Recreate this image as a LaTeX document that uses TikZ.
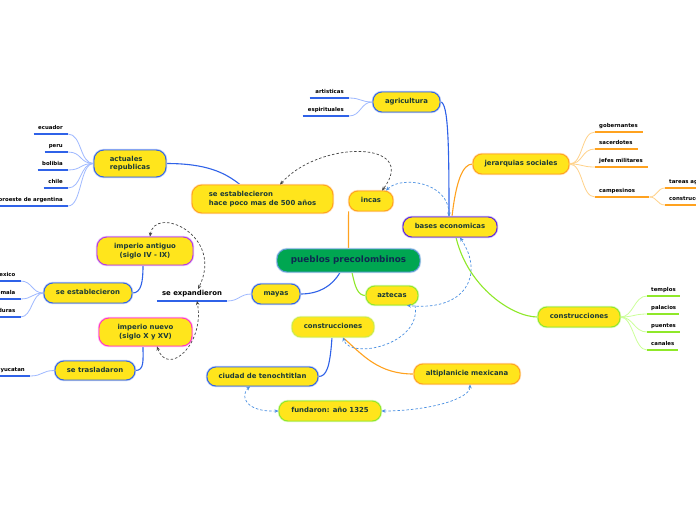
\documentclass[tikz,border=0pt]{standalone}
\usepackage{fontspec}
\setmainfont{DejaVu Sans}
\usetikzlibrary{arrows.meta}
\definecolor{ylw}{HTML}{FFE51C}
\definecolor{txt}{HTML}{1C3A36}
\definecolor{navy}{HTML}{0E2A50}
\definecolor{cgr}{HTML}{00A651}
\definecolor{cenb}{HTML}{5B9BD5}
\definecolor{cblue}{HTML}{2F62E8}
\definecolor{corg}{HTML}{FFA21F}
\definecolor{cgrn}{HTML}{8FE829}
\definecolor{cpur}{HTML}{5A24DE}
\definecolor{cvio}{HTML}{B238E6}
\definecolor{cmag}{HTML}{FF35C8}
\definecolor{clim}{HTML}{CCEB45}
\definecolor{lblue}{HTML}{9FB9FF}
\definecolor{lorg}{HTML}{FFD28A}
\definecolor{lgrn}{HTML}{CCFF99}
\definecolor{dgray}{HTML}{444444}
\definecolor{dblue}{HTML}{4A90E2}
\newcommand\leafl[2]{\makebox[#1pt][r]{#2\hspace{5pt}}}
\newcommand\leafr[2]{\makebox[#1pt][l]{\hspace{4pt}#2}}
\pgfdeclarelayer{bg}
\pgfdeclarelayer{paper}
\pgfsetlayers{paper,bg,main}
\begin{document}
\begin{tikzpicture}[x=1pt,y=-1pt,
  >={Stealth[length=4pt,width=3.5pt]},
  box/.style={draw=#1, preaction={draw=#1!35, line width=2.4pt}, fill=ylw, line width=0.9pt,
    rounded corners=9pt, inner sep=0pt, minimum height=20pt,
    font=\bfseries\fontsize{6.9}{8.8}\selectfont, text=txt, align=center},
  one/.style={text height=5.3pt, text depth=1.7pt},
  leaf/.style={inner sep=0pt, text height=4pt, text depth=4pt,
    font=\bfseries\fontsize{5.4}{6}\selectfont, text=black},
  mb/.style={draw=cblue, line width=1.1pt},
  mo/.style={draw=corg, line width=1.1pt},
  mg/.style={draw=cgrn, line width=1.1pt},
  lb/.style={draw=lblue, line width=0.8pt},
  lo/.style={draw=lorg, line width=0.8pt},
  lg/.style={draw=lgrn, line width=0.8pt},
  ub/.style={draw=cblue, line width=1.4pt},
  uo/.style={draw=corg, line width=1.4pt},
  ug/.style={draw=cgrn, line width=1.4pt},
  gd/.style={draw=dgray, dash pattern=on 2.5pt off 2pt, line width=0.7pt},
  bd/.style={draw=dblue, dash pattern=on 2.5pt off 2pt, line width=0.7pt}
]
\useasboundingbox (0,0) rectangle (696,520);
\begin{pgfonlayer}{paper}
\fill[white] (0,0) rectangle (696,520);
\end{pgfonlayer}

% boxed nodes
\node[box=cenb, fill=cgr, minimum width=143pt, minimum height=23pt, rounded corners=10pt,
  font=\bfseries\fontsize{8.8}{10}\selectfont, text=navy, one] (pp) at (348.5,260.5) {pueblos precolombinos};
\node[box=corg, one, minimum width=44pt] (incas) at (371,201) {incas};
\node[box=cblue, one, minimum width=48pt] (mayas) at (276,294) {mayas};
\node[box=cgrn, one, minimum width=52pt, minimum height=19pt] (aztecas) at (392,295.5) {aztecas};
\node[box=corg, minimum width=141pt, minimum height=28pt, rounded corners=10pt, align=left] (sehp) at (262.5,199) {se establecieron\\hace poco mas de 500 años};
\node[box=cblue, minimum width=72pt, minimum height=27pt, rounded corners=10pt, align=left] (act) at (130,163.5) {actuales\\republicas};
\node[box=cblue, one, minimum width=67pt] (agr) at (406.5,102) {agricultura};
\node[box=cpur, one, minimum width=94pt] (bases) at (450,227) {bases economicas};
\node[box=corg, one, minimum width=96pt] (jer) at (521,164) {jerarquias sociales};
\node[box=cgrn, one, minimum width=82pt] (consR) at (579,317) {construcciones};
\node[box=cvio, minimum width=96pt, minimum height=28pt, rounded corners=10pt] (impA) at (145,251) {imperio antiguo\\(siglo IV - IX)};
\node[box=cblue, one, minimum width=88pt] (seest) at (88,293) {se establecieron};
\node[box=cmag, minimum width=93pt, minimum height=28pt, rounded corners=10pt] (impN) at (145.5,332) {imperio nuevo\\(siglo X y XV)};
\node[box=cblue, one, minimum width=80pt, minimum height=19pt] (setr) at (95,370.5) {se trasladaron};
\node[box=clim, one, minimum width=82pt] (consC) at (333,327) {construcciones};
\node[box=cblue, one, minimum width=111pt, minimum height=19pt] (ciudad) at (262.5,376.5) {ciudad de tenochtitlan};
\node[box=corg, one, minimum width=106pt] (alti) at (467,374) {altiplanicie mexicana};
\node[box=cgrn, one, minimum width=102pt] (fund) at (330,411) {fundaron: año 1325};

% se expandieron (underlined)
\node[leaf, font=\bfseries\fontsize{6.9}{8}\selectfont, text height=6pt, text depth=5.5pt,
  minimum width=70pt, anchor=south] (sexp) at (192,301) {se expandieron};

% leaves, left side
\node[leaf, anchor=south east] (ec) at (68,134) {\leafl{34}{ecuador}};
\node[leaf, anchor=south east] (pe) at (68,152) {\leafl{23}{peru}};
\node[leaf, anchor=south east] (bo) at (68,170) {\leafl{30}{bolibia}};
\node[leaf, anchor=south east] (ch) at (68,188) {\leafl{24}{chile}};
\node[leaf, anchor=south east] (no) at (68,206) {\leafl{68}{noroeste de argentina}};
\node[leaf, anchor=south east] (ar) at (349,98) {\leafl{39}{artisticas}};
\node[leaf, anchor=south east] (es) at (349,116) {\leafl{46}{espirituales}};
\node[leaf, anchor=south east] (mx) at (20.5,281) {\leafl{21}{mexico}};
\node[leaf, anchor=south east] (gu) at (20.5,299) {\leafl{21}{guatemala}};
\node[leaf, anchor=south east] (ho) at (20.5,317) {\leafl{21}{honduras}};
\node[leaf, anchor=south east] (yu) at (30,376) {\leafl{30}{yucatan}};
% leaves, right side
\node[leaf, anchor=south west] (go) at (595,132) {\leafr{48}{gobernantes}};
\node[leaf, anchor=south west] (sa) at (595,149) {\leafr{43}{sacerdotes}};
\node[leaf, anchor=south west] (je) at (595,167) {\leafr{53}{jefes militares}};
\node[leaf, anchor=south west] (ca) at (595,197) {\leafr{54}{campesinos}};
\node[leaf, anchor=south west] (ta) at (665,188) {\leafr{40}{tareas agricolas}};
\node[leaf, anchor=south west] (co) at (665,205) {\leafr{40}{construcciones}};
\node[leaf, anchor=south west] (te) at (647,296) {\leafr{33}{templos}};
\node[leaf, anchor=south west] (pa) at (647,314) {\leafr{32}{palacios}};
\node[leaf, anchor=south west] (pu) at (647,332) {\leafr{33}{puentes}};
\node[leaf, anchor=south west] (cn) at (647,350) {\leafr{31}{canales}};

\begin{pgfonlayer}{bg}
% main connectors
\draw[mo] (pp.north) -- (incas.south west);
\draw[mb] ([xshift=-8.5pt]pp.south) .. controls +(-8,14) and +(18,0) .. (mayas.east);
\draw[mg] ([xshift=3.5pt]pp.south) .. controls +(3,14) and +(-8,0) .. (aztecas.west);
\draw[mb] (act.east) .. controls +(40,0) and +(-15,-12) .. ([xshift=-22.5pt]sehp.north);
\draw[mb] (agr.east) .. controls +(8,0) and +(0,-70) .. ([xshift=-1pt]bases.north);
\draw[mo] ([xshift=2pt]bases.north) .. controls +(4,-35) and +(-10,0) .. (jer.west);
\draw[mg] ([xshift=6pt]bases.south) .. controls +(12,50) and +(-25,0) .. (consR.west);
\draw[mb] (seest.east) .. controls +(9,0) and +(0,16) .. ([xshift=-2pt]impA.south);
\draw[mb] (setr.east) .. controls +(9,0) and +(0,14) .. ([xshift=-2.5pt]impN.south);
\draw[mb] ([xshift=-1pt]consC.south) .. controls +(-2,30) and +(8,0) .. (ciudad.east);
\draw[mo] (alti.west) .. controls +(-35,0) and +(20,18) .. ([xshift=10pt]consC.south);
\draw[lb] (mayas.west) .. controls +(-12,0) and +(12,0) .. (sexp.south east);
% leaf connectors
\foreach \n in {ec,pe,bo,ch,no}
  \draw[lb] (act.west) .. controls +(-14,0) and +(14,0) .. (\n.south east);
\foreach \n in {ar,es}
  \draw[lb] (agr.west) .. controls +(-12,0) and +(12,0) .. (\n.south east);
\foreach \n in {mx,gu,ho}
  \draw[lb] (seest.west) .. controls +(-12,0) and +(12,0) .. (\n.south east);
\draw[lb] (setr.west) .. controls +(-13,0) and +(13,0) .. (yu.south east);
\foreach \n in {go,sa,je,ca}
  \draw[lo] (jer.east) .. controls +(14,0) and +(-14,0) .. (\n.south west);
\foreach \n in {ta,co}
  \draw[lo] (ca.south east) .. controls +(8,0) and +(-8,0) .. (\n.south west);
\foreach \n in {te,pa,pu,cn}
  \draw[lg] (consR.east) .. controls +(13,0) and +(-13,0) .. (\n.south west);
\end{pgfonlayer}

% underlines
\draw[ub] (sexp.south west) -- (sexp.south east);
\foreach \n in {ec,pe,bo,ch,no,ar,es,mx,gu,ho,yu}
  \draw[ub] (\n.south west) -- (\n.south east);
\foreach \n in {go,sa,je,ca,ta,co}
  \draw[uo] (\n.south west) -- (\n.south east);
\foreach \n in {te,pa,pu,cn}
  \draw[ug] (\n.south west) -- (\n.south east);

% dashed relations
\draw[gd,<->] ([xshift=17.5pt]sehp.north) .. controls +(40,-45) and +(38,-50) .. ([xshift=11pt]incas.north);
\draw[gd,<->] ([xshift=5pt]impA.north) .. controls +(5,-32) and +(27,-54) .. ([xshift=6pt]sexp.north);
\draw[gd,<->] ([xshift=11.5pt]impN.south) .. controls +(11,31) and +(8,43) .. ([xshift=5pt]sexp.south);
\draw[bd,<->] ([xshift=15pt]incas.north) .. controls +(15,-15) and +(0,-35) .. ([xshift=-1pt]bases.north);
\draw[bd,<->] ([xshift=10pt]bases.south) .. controls +(25,38) and +(58,6) .. ([xshift=15pt]aztecas.south);
\draw[bd,->] ([xshift=23pt]aztecas.south) .. controls +(7,39) and +(7,23) .. ([xshift=10pt]consC.south);
\draw[bd,<->] (fund.west) .. controls +(-34,1) and +(-10,9) .. ([xshift=-12.5pt]ciudad.south);
\draw[bd,<->] (fund.east) .. controls +(45,0) and +(0,15) .. ([xshift=3pt]alti.south);
\end{tikzpicture}
\end{document}
